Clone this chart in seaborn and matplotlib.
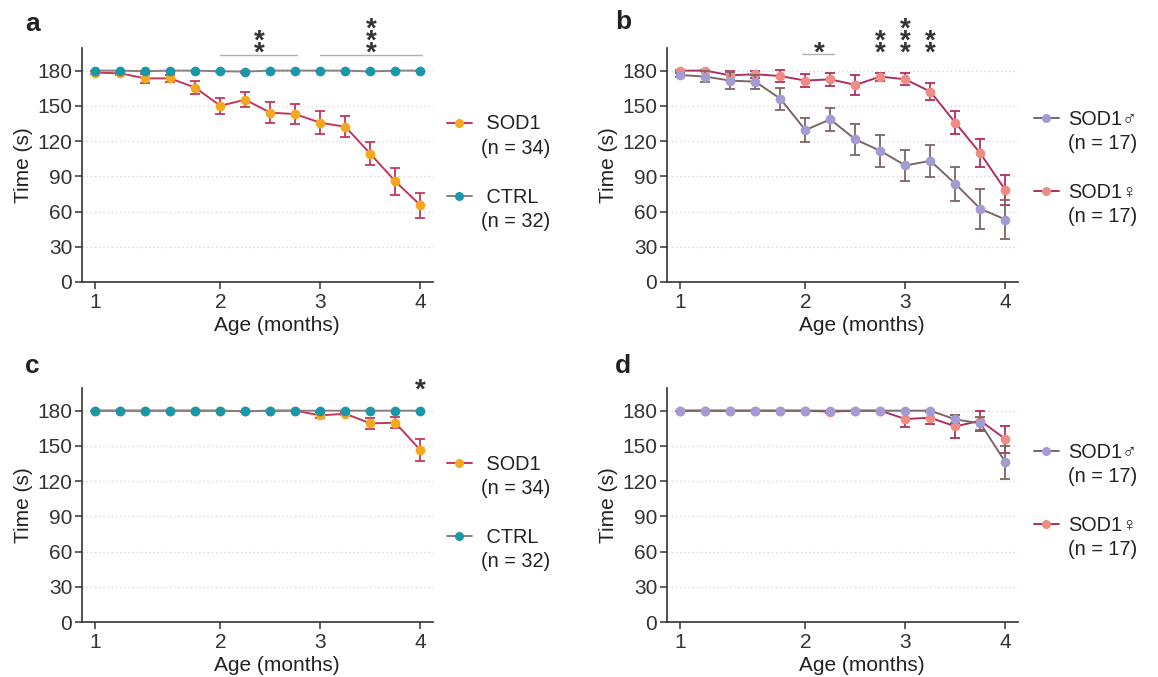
"""Rotarod-style latency over age: SOD1 vs CTRL and by sex (panels a-d)."""

import matplotlib

matplotlib.use("Agg")

import matplotlib.pyplot as plt
import seaborn as sns
from matplotlib.lines import Line2D

# test sessions (14 sessions between 1 and 4 months of age)
SESSIONS = list(range(1, 15))
MONTH_TICK_SESSIONS = [1, 6, 10, 14]
MONTH_TICK_LABELS = ["1", "2", "3", "4"]
Y_TICKS = [0, 30, 60, 90, 120, 150, 180]

# panel a
a_sod1 = [178.3, 177.7, 173.4, 173.4, 165.5, 150.1, 155.2, 144.2, 143.0, 135.6, 132.2, 109.2, 85.6, 65.4]
a_sod1_err = [1.0, 1.2, 4.0, 3.0, 5.7, 7.0, 6.3, 8.7, 8.8, 9.7, 8.8, 9.7, 11.2, 10.7]
a_ctrl = [180, 180, 179.5, 180, 180, 179.5, 179.2, 180, 180, 180, 180, 179.3, 180, 180]
a_ctrl_err = [0, 0, 0.5, 0, 0, 0.5, 0.8, 0, 0, 0, 0, 0.7, 0, 0]

# panel b
b_male = [176.3, 174.9, 171.5, 170.6, 156.1, 129.4, 138.5, 121.4, 111.7, 99.2, 103.2, 83.6, 62.3, 53.2]
b_male_err = [2.0, 5.0, 7.5, 6.0, 9.5, 10.5, 9.5, 13.0, 13.5, 13.0, 13.5, 14.5, 17.0, 17.0]
b_female = [180, 180, 176.0, 176.9, 175.4, 171.5, 172.6, 167.8, 174.9, 172.6, 162.1, 135.6, 109.5, 78.2]
b_female_err = [0.5, 0.5, 4.0, 3.0, 5.0, 5.7, 5.5, 8.5, 3.5, 5.0, 7.5, 10.0, 12.0, 13.0]

# panel c
c_sod1 = [180, 180, 180, 180, 180, 180, 179.5, 180, 180, 176.0, 177.4, 169.2, 169.7, 146.4]
c_sod1_err = [0, 0, 0, 0, 0, 0, 0.5, 0, 0, 2.5, 1.5, 4.5, 4.5, 9.5]
c_ctrl = [180, 180, 180, 180, 180, 180, 179.5, 180, 180, 180, 180, 180, 180, 180]
c_ctrl_err = [0, 0, 0, 0, 0, 0, 0.5, 0, 0, 0, 0, 0, 0, 0]

# panel d
d_male = [180, 180, 180, 180, 180, 180, 180, 180, 180, 180, 180, 172.6, 169.2, 136.2]
d_male_err = [0, 0, 0, 0, 0, 0, 0, 0, 0, 0, 0, 3.5, 5.5, 14.0]
d_female = [180, 180, 180, 180, 180, 180, 179.2, 180, 180, 172.9, 174.0, 166.6, 171.5, 155.8]
d_female_err = [0, 0, 0, 0, 0, 0, 0.8, 0, 0, 7.0, 5.0, 9.5, 8.5, 11.5]

# significance: bracketed ranges (start, end, n stars) and single sessions (session, n stars)
a_sig = [(6, 9, 2), (10, 14, 3)]
b_sig_bar = [(6, 7, 1)]
b_sig = [(9, 2), (10, 3), (11, 2)]
c_sig = [(14, 1)]

STYLE = {
    "SOD1": {"line": "#c4375c", "face": "#f4a81d"},
    "CTRL": {"line": "#8d7d7d", "face": "#1a97a8"},
    "male": {"line": "#7b6763", "face": "#a59bd4"},
    "female": {"line": "#ad2f63", "face": "#ee8c85"},
}

sns.set_style("ticks")
plt.rcParams["font.family"] = ["Liberation Sans", "DejaVu Sans"]
plt.rcParams["text.color"] = "#222222"
plt.rcParams["axes.labelcolor"] = "#222222"
plt.rcParams["xtick.color"] = "#333333"
plt.rcParams["ytick.color"] = "#333333"


def draw_series(ax, values, errors, key, z):
    st = STYLE[key]
    ax.errorbar(SESSIONS, values, yerr=errors, fmt="none", ecolor=st["line"],
                elinewidth=1.3, capsize=3.5, capthick=1.3, zorder=z)
    sns.lineplot(x=SESSIONS, y=values, ax=ax, color=st["line"], linewidth=1.4,
                 marker="o", markersize=7, markerfacecolor=st["face"],
                 markeredgecolor=st["face"], markeredgewidth=0, zorder=z + 1)


def style_axes(ax):
    ax.set_xlim(0.47, 14.5)
    ax.set_ylim(0, 199.5)
    ax.set_yticks(Y_TICKS)
    ax.set_xticks(MONTH_TICK_SESSIONS)
    ax.set_xticklabels(MONTH_TICK_LABELS)
    for y in Y_TICKS[1:]:
        ax.axhline(y, color="#d9d9d9", linestyle=(0, (1, 2)), linewidth=1.0, zorder=0)
    for side in ("top", "right"):
        ax.spines[side].set_visible(False)
    for side in ("left", "bottom"):
        ax.spines[side].set_color("#333333")
        ax.spines[side].set_linewidth(1.2)
    ax.tick_params(axis="both", labelsize=15, length=5, width=1.1)
    ax.tick_params(axis="x", pad=3)
    ax.tick_params(axis="y", pad=2)
    ax.set_ylabel("Time (s)", fontsize=15, labelpad=3)
    ax.set_xlabel("Age (months)", fontsize=15)
    ax.xaxis.set_label_coords(0.556, -0.147)


def stars(ax, x, n, base=188.6):
    for i in range(n):
        ax.text(x, base + i * 10.0, "*", ha="center", va="baseline", fontsize=20,
                fontweight="bold", color="#333333", clip_on=False)


def legend(ax, entries, anchor):
    handles = []
    labels = []
    for i, (key, name, n) in enumerate(entries):
        st = STYLE[key]
        handles.append(Line2D([], [], color=st["line"], linewidth=1.4, marker="o",
                              markersize=6.5, markerfacecolor=st["face"],
                              markeredgewidth=0))
        labels.append(name)
        handles.append(Line2D([], [], linestyle="none"))
        labels.append(n)
        if i == 0:
            handles.append(Line2D([], [], linestyle="none"))
            labels.append(" ")
    ax.legend(handles, labels, loc="upper left", bbox_to_anchor=anchor, frameon=False,
              fontsize=14.3, handlelength=1.25, handletextpad=0.45, labelspacing=0.27,
              borderpad=0, borderaxespad=0)


fig = plt.figure(figsize=(11.58, 6.77), dpi=100)
W, H = 0.303, 0.346
ax_a = fig.add_axes([0.0708, 0.5835, W, H])
ax_b = fig.add_axes([0.576, 0.5835, W, H])
ax_c = fig.add_axes([0.0708, 0.0812, W, H])
ax_d = fig.add_axes([0.576, 0.0812, W, H])

draw_series(ax_a, a_sod1, a_sod1_err, "SOD1", 2)
draw_series(ax_a, a_ctrl, a_ctrl_err, "CTRL", 4)
draw_series(ax_b, b_female, b_female_err, "female", 2)
draw_series(ax_b, b_male, b_male_err, "male", 4)
draw_series(ax_c, c_sod1, c_sod1_err, "SOD1", 2)
draw_series(ax_c, c_ctrl, c_ctrl_err, "CTRL", 4)
draw_series(ax_d, d_female, d_female_err, "female", 2)
draw_series(ax_d, d_male, d_male_err, "male", 4)

for ax in (ax_a, ax_b, ax_c, ax_d):
    style_axes(ax)

for x0, x1, n in a_sig:
    ax_a.plot([x0, x1 + 0.05], [193.5, 193.5], color="#b0b0b0", linewidth=1.0, clip_on=False)
    stars(ax_a, (x0 + x1) / 2 + 0.05, n)
for x0, x1, n in b_sig_bar:
    ax_b.plot([x0 - 0.15, x1 + 0.15], [194.0, 194.0], color="#b0b0b0", linewidth=1.0, clip_on=False)
    stars(ax_b, (x0 + x1) / 2 + 0.05, n)
for x, n in b_sig:
    stars(ax_b, x, n)
for x, n in c_sig:
    stars(ax_c, x, n, base=191.5)

legend(ax_a, [("SOD1", " SOD1", "(n = 34)"), ("CTRL", " CTRL", "(n = 32)")], (1.04, 0.715))
legend(ax_c, [("SOD1", " SOD1", "(n = 34)"), ("CTRL", " CTRL", "(n = 32)")], (1.04, 0.715))
legend(ax_b, [("male", "SOD1\u2642", "(n = 17)"), ("female", "SOD1\u2640", "(n = 17)")], (1.046, 0.735))
legend(ax_d, [("male", "SOD1\u2642", "(n = 17)"), ("female", "SOD1\u2640", "(n = 17)")], (1.046, 0.765))

for letter, x, y in (("a", 0.022, 0.965), ("b", 0.531, 0.967), ("c", 0.022, 0.46), ("d", 0.531, 0.46)):
    fig.text(x, y, letter, fontsize=19, fontweight="bold", va="center", color="#222222")

fig.savefig("out.png", dpi=100)
